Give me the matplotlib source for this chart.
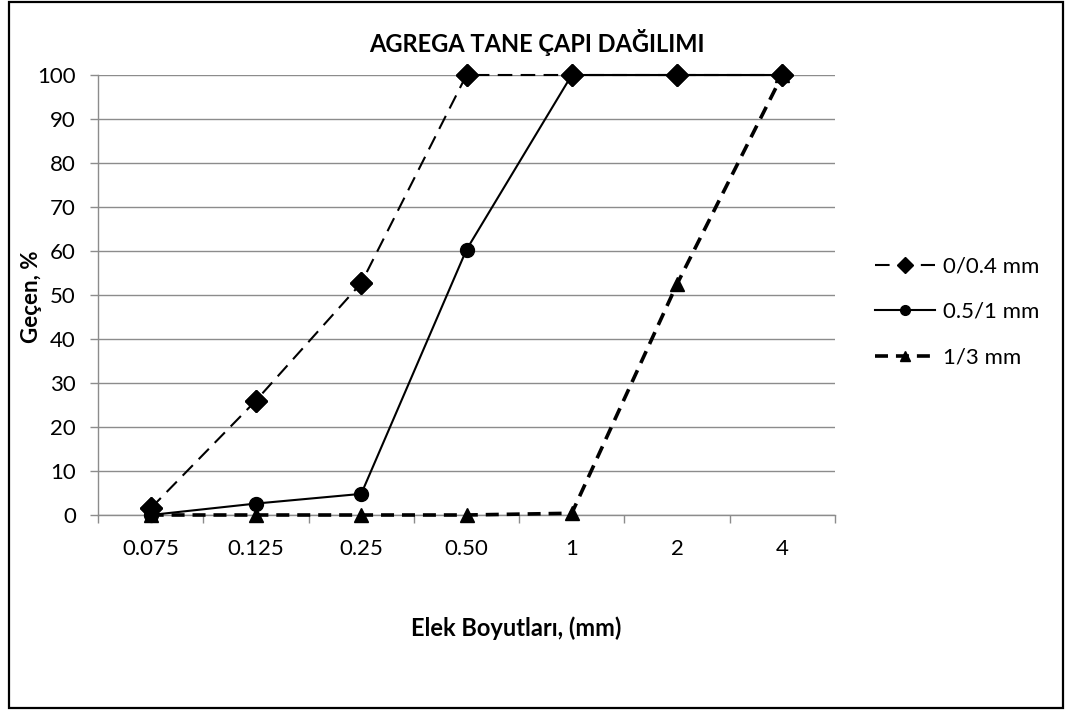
import matplotlib
matplotlib.use("Agg")
import matplotlib.pyplot as plt
from matplotlib.patches import Rectangle

plt.rcParams['font.family'] = ['Lato', 'DejaVu Sans']

categories = ["0.075", "0.125", "0.25", "0.50", "1", "2", "4"]
s1_label = "0/0.4 mm"
s1_values = [1.5, 26.0, 52.7, 100, 100, 100, 100]
s2_label = "0.5/1 mm"
s2_values = [0.0, 2.6, 4.8, 60.3, 100, 100, 100]
s3_label = "1/3 mm"
s3_values = [0.0, 0.0, 0.0, 0.0, 0.4, 52.5, 100]
yticks = list(range(0, 101, 10))

title = "AGREGA TANE ÇAPI DAĞILIMI"
xlabel = "Elek Boyutları, (mm)"
ylabel = "Geçen, %"

W, H = 1065, 711
fig = plt.figure(figsize=(W / 100, H / 100), dpi=100)
ax = fig.add_axes([98 / W, 1 - 515 / H, (835 - 98) / W, (515 - 75) / H])

x = list(range(len(categories)))
grid_c = "#8c8c8c"

# series
ax.plot(x, s3_values, color="black", lw=2.6, ls=(0, (3.6, 2.2)), marker="^",
        ms=10, label=s3_label, zorder=3, clip_on=False)
ax.plot(x, s1_values, color="black", lw=1.5, ls=(0, (7, 4)), marker="D",
        ms=11, label=s1_label, zorder=3.5, clip_on=False)
ax.plot(x, s2_values, color="black", lw=1.5, ls="-", marker="o",
        ms=10, label=s2_label, zorder=4, clip_on=False)
ax.plot(x, s1_values, color="black", lw=0, marker="D", ms=11, zorder=5,
        clip_on=False)

ax.set_xlim(-0.5, len(categories) - 0.5)
ax.set_ylim(0, 100)
ax.set_yticks(yticks)
ax.set_xticks(x)
ax.set_xticklabels(categories)
ax.set_xticks([i - 0.5 for i in range(len(categories) + 1)], minor=True)
ax.tick_params(axis="x", which="major", length=0, pad=17, labelsize=16)
ax.tick_params(axis="x", which="minor", length=6, color=grid_c, width=1)
ax.tick_params(axis="y", length=6, color=grid_c, width=1, labelsize=16, pad=10)
ax.yaxis.grid(True, color=grid_c, lw=1)
ax.set_axisbelow(True)
for sp in ["top", "right"]:
    ax.spines[sp].set_visible(False)
for sp in ["left", "bottom"]:
    ax.spines[sp].set_color(grid_c)
    ax.spines[sp].set_linewidth(1)

fig.text(537 / W, 1 - 42 / H, title, ha="center", va="center",
         fontsize=17, fontweight="bold")
fig.text(516 / W, 1 - 628 / H, xlabel, ha="center", va="center",
         fontsize=17, fontweight="bold")
fig.text(32 / W, 1 - 297 / H, ylabel, ha="center", va="center",
         rotation=90, fontsize=16, fontweight="bold")

handles, labels = ax.get_legend_handles_labels()
order = [labels.index(s1_label), labels.index(s2_label), labels.index(s3_label)]
leg = fig.legend([handles[i] for i in order], [labels[i] for i in order],
                 loc="center left", bbox_to_anchor=(875 / W, 1 - 312 / H),
                 frameon=False, fontsize=16, handlelength=2.7,
                 handletextpad=0.35, labelspacing=1.15, markerscale=0.7,
                 borderaxespad=0, borderpad=0)

fig.add_artist(Rectangle((9 / W, 1 - 708 / H), (1063 - 9) / W, (708 - 2) / H,
                         transform=fig.transFigure, fill=False,
                         edgecolor="black", lw=1.6))

fig.savefig("out.png", dpi=100)
